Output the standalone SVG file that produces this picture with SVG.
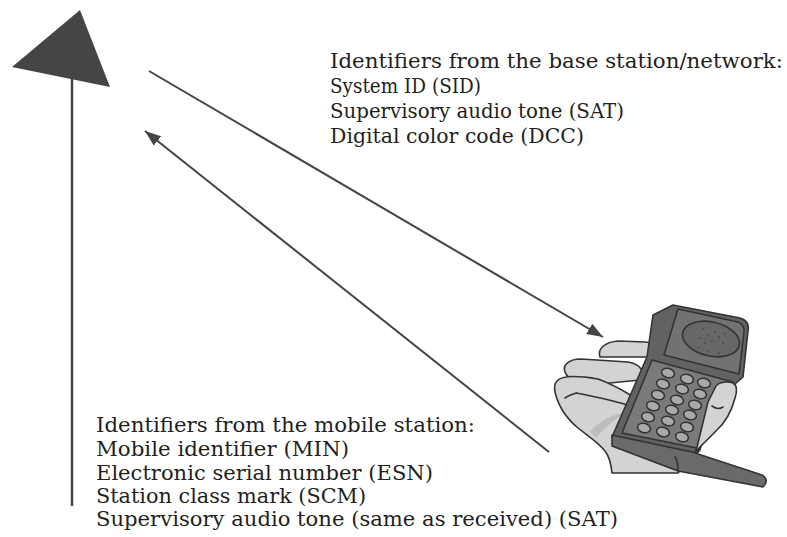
<svg xmlns="http://www.w3.org/2000/svg" width="787" height="537" viewBox="0 0 787 537">
  <defs>
    <marker id="arrow" viewBox="0 0 16 12" refX="16" refY="6" markerWidth="16" markerHeight="12" markerUnits="userSpaceOnUse" orient="auto">
      <path d="M0,0 L16,6 L0,12 Z" fill="#444"/>
    </marker>
  </defs>
  <style>
    .t { font-family: "DejaVu Serif", "Liberation Serif", serif; font-size: 21px; fill: #231f20; }
    .conn { stroke: #444; stroke-width: 2; fill: none; }
    .ol { stroke: #333; stroke-width: 1.6; stroke-linejoin: round; stroke-linecap: round; }
    .skin { fill: #d3d3d3; }
    .key { fill: #a9a9a9; stroke: #333; stroke-width: 1.5; }
    .dot { fill: #4d4d4d; }
  </style>
  <rect width="787" height="537" fill="#fff"/>

  <!-- antenna: triangle on a mast -->
  <g id="base-station">
    <polygon points="12,67 80,10 110,87" fill="#454545"/>
    <line x1="72" y1="78" x2="72" y2="506" stroke="#444" stroke-width="2.5"/>
  </g>

  <!-- signal paths -->
  <g id="connectors">
    <line class="conn" x1="149" y1="71" x2="603" y2="337" marker-end="url(#arrow)"/>
    <line class="conn" x1="549" y1="452" x2="145" y2="131" marker-end="url(#arrow)"/>
  </g>

  <g id="network-ids">
    <text class="t" x="330" y="68" textLength="453" lengthAdjust="spacingAndGlyphs">Identifiers from the base station/network:</text>
    <text class="t" x="330" y="93" textLength="151" lengthAdjust="spacingAndGlyphs">System ID (SID)</text>
    <text class="t" x="330" y="118" textLength="294" lengthAdjust="spacingAndGlyphs">Supervisory audio tone (SAT)</text>
    <text class="t" x="330" y="143" textLength="254" lengthAdjust="spacingAndGlyphs">Digital color code (DCC)</text>
  </g>

  <g id="mobile-ids">
    <text class="t" x="96" y="432" textLength="379" lengthAdjust="spacingAndGlyphs">Identifiers from the mobile station:</text>
    <text class="t" x="96" y="456" textLength="253" lengthAdjust="spacingAndGlyphs">Mobile identifier (MIN)</text>
    <text class="t" x="96" y="480" textLength="337" lengthAdjust="spacingAndGlyphs">Electronic serial number (ESN)</text>
    <text class="t" x="96" y="503" textLength="270" lengthAdjust="spacingAndGlyphs">Station class mark (SCM)</text>
    <text class="t" x="96" y="526" textLength="522" lengthAdjust="spacingAndGlyphs">Supervisory audio tone (same as received) (SAT)</text>
  </g>

  <!-- hand holding a flip phone -->
  <g id="mobile-station">
    <!-- fingers, back to front -->
    <path class="skin ol" d="M600,357 C597,348 606,342 618,341 L646,342 C655,343 656,352 651,357 Z"/>
    <path class="skin ol" d="M566,374 C561,366 568,359 581,359 L628,362 C641,364 646,373 640,380 L600,384 C584,384 570,381 566,374 Z"/>
    <!-- palm with lowest finger -->
    <path class="skin ol" d="M557,381 C562,375 580,376 598,379 C612,384 624,391 632,396 C637,400 634,405 627,405 L660,360 L716,384 L700,450 L678,473 L612,473 C611,463 609,456 605,451 C598,442 588,436 578,428 C566,418 558,405 555,392 C554,387 555,383 557,381 Z"/>
    <path class="ol" fill="none" d="M576,393 C592,396 612,400 627,405"/>
    <path class="ol" fill="none" d="M565,398 C569,395 573,394 577,393"/>
    <path fill="#bdbdbd" d="M590,432 C600,420 615,414 626,412 C614,420 604,428 596,438 Z"/>

    <!-- phone body -->
    <path fill="#626262" class="ol" d="M653,315 L673,305 L740,318 Q750,321 748,331 L743,377 L735,384 L697,453 L612,437 L647,357 Z"/>
    <!-- earpiece half -->
    <path fill="#727272" class="ol" d="M678,309 L738,322 Q745,325 744,332 L739,374 L664,355 Z"/>
    <ellipse cx="711" cy="339" rx="29" ry="17" transform="rotate(13 711 339)" fill="#676767" class="ol"/>
    <g>
      <circle class="dot" cx="703" cy="329" r="1"/>
      <circle class="dot" cx="715" cy="332" r="1"/>
      <circle class="dot" cx="725" cy="334" r="1"/>
      <circle class="dot" cx="708" cy="335" r="1"/>
      <circle class="dot" cx="719" cy="337" r="1"/>
      <circle class="dot" cx="700" cy="338" r="1"/>
      <circle class="dot" cx="712" cy="341" r="1"/>
      <circle class="dot" cx="723" cy="343" r="1"/>
      <circle class="dot" cx="705" cy="343" r="1"/>
      <circle class="dot" cx="698" cy="348" r="1"/>
      <circle class="dot" cx="708" cy="351" r="1"/>
      <circle class="dot" cx="719" cy="353" r="1"/>
    </g>
    <!-- keypad half -->
    <path fill="#7a7a7a" class="ol" d="M652,360 L733,382 L697,448 L622,433 Z"/>
    <g>
      <ellipse class="key" cx="668" cy="373" rx="6.5" ry="4.6" transform="rotate(15 668 373)"/>
      <ellipse class="key" cx="687" cy="379" rx="6.5" ry="4.6" transform="rotate(15 687 379)"/>
      <ellipse class="key" cx="704" cy="383" rx="6.5" ry="4.6" transform="rotate(15 704 383)"/>
      <ellipse class="key" cx="663" cy="384" rx="6.5" ry="4.6" transform="rotate(15 663 384)"/>
      <ellipse class="key" cx="682" cy="389" rx="6.5" ry="4.6" transform="rotate(15 682 389)"/>
      <ellipse class="key" cx="700" cy="394" rx="6.5" ry="4.6" transform="rotate(15 700 394)"/>
      <ellipse class="key" cx="658" cy="395" rx="6.5" ry="4.6" transform="rotate(15 658 395)"/>
      <ellipse class="key" cx="677" cy="400" rx="6.5" ry="4.6" transform="rotate(15 677 400)"/>
      <ellipse class="key" cx="695" cy="405" rx="6.5" ry="4.6" transform="rotate(15 695 405)"/>
      <ellipse class="key" cx="653" cy="406" rx="6.5" ry="4.6" transform="rotate(15 653 406)"/>
      <ellipse class="key" cx="672" cy="410" rx="6.5" ry="4.6" transform="rotate(15 672 410)"/>
      <ellipse class="key" cx="690" cy="415" rx="6.5" ry="4.6" transform="rotate(15 690 415)"/>
      <ellipse class="key" cx="648" cy="417" rx="6.5" ry="4.6" transform="rotate(15 648 417)"/>
      <ellipse class="key" cx="668" cy="421" rx="6.5" ry="4.6" transform="rotate(15 668 421)"/>
      <ellipse class="key" cx="687" cy="427" rx="6.5" ry="4.6" transform="rotate(15 687 427)"/>
      <ellipse class="key" cx="644" cy="428" rx="6.5" ry="4.6" transform="rotate(15 644 428)"/>
      <ellipse class="key" cx="663" cy="432" rx="6.5" ry="4.6" transform="rotate(15 663 432)"/>
      <ellipse class="key" cx="682" cy="437" rx="6.5" ry="4.6" transform="rotate(15 682 437)"/>
    </g>
    <!-- mouthpiece flap -->
    <path fill="#6a6a6a" class="ol" d="M612,435 L692,452 L762,475 Q770,480 763,487 L678,471 L612,446 Z"/>
    <path class="ol" fill="none" d="M675,457 C678,461 678,466 678,471"/>
    <!-- thumb in front of the keypad edge -->
    <path class="skin ol" d="M716,386 C719,382 728,381 733,383 C738,386 737,392 735,398 C732,410 726,422 716,431 C708,439 701,446 695,452 L697,447 L708,402 Z"/>
    <path class="ol" fill="none" d="M712,406 C716,409 720,409 723,407"/>
  </g>
</svg>
